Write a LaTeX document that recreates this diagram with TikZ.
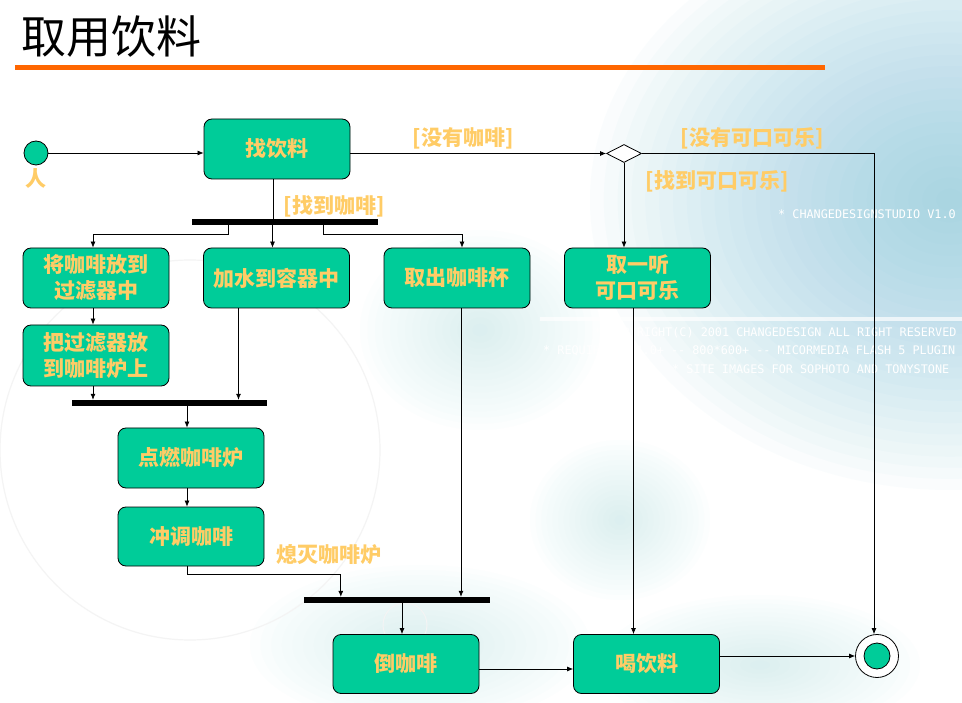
\documentclass[tikz,border=0pt]{standalone}
\usepackage{fontspec}
\newfontfamily\cjk{Noto Sans CJK SC}
\newfontfamily\wmfont{DejaVu Sans Mono}
\usetikzlibrary{shapes.geometric,arrows.meta,calc}
\definecolor{boxgreen}{HTML}{00CC99}
\definecolor{lbl}{HTML}{FFCC66}
\definecolor{orangeline}{HTML}{FF6600}
\definecolor{bgblue}{HTML}{7FC4DC}
\definecolor{bglight}{HTML}{BFE4F0}
\tikzset{
  act/.style={draw=black, line width=0.8pt, fill=boxgreen, rounded corners=8pt,
    minimum width=146pt, minimum height=60pt, inner sep=0pt, align=center,
    text=lbl, font=\cjk\bfseries\fontsize{21}{26}\selectfont},
  syncbar/.style={fill=black, minimum height=6pt, inner sep=0pt},
  arr/.style={-{Latex[length=6pt,width=5pt]}, line width=0.7pt},
  guard/.style={text=lbl, inner sep=0pt, font=\cjk\bfseries\fontsize{21}{24}\selectfont},
  wm/.style={text=white, anchor=west, inner sep=0pt, font=\wmfont\fontsize{11.8}{12}\selectfont},
  glow/.style={fill=#1, opacity=0.035, draw=none}
}
\begin{document}
\begin{tikzpicture}[x=1pt,y=-1pt]
\useasboundingbox (0,0) rectangle (962,703);
\fill[white] (0,0) rectangle (962,703);
% background decoration
\begin{scope}
  \clip (0,0) rectangle (962,703);
  \foreach \k in {1,...,26} {
    \fill[glow=bgblue] (950,200) ellipse ({360*\k/26} and {290*\k/26});
  }
  \foreach \k in {1,...,16} {
    \fill[glow=bglight] (480,330) ellipse ({120*\k/16} and {100*\k/16});
    \fill[glow=bglight] (420,645) ellipse ({170*\k/16} and {80*\k/16});
    \fill[glow=bglight] (760,665) ellipse ({160*\k/16} and {70*\k/16});
    \fill[glow=bglight] (620,520) ellipse ({90*\k/16} and {80*\k/16});
  }
\end{scope}
\draw[gray!9, line width=1.2pt] (190,450) circle (190);
\draw[gray!9, line width=1pt] (405,625) circle (22);
\fill[white, opacity=0.7] (540,317) rectangle (962,321);
\node[wm] (wm1) at (778,214) {* CHANGEDESIGNSTUDIO V1.0};
\node[wm] (wm2) at (594,333) {* COPYRIGHT(C) 2001 CHANGEDESIGN ALL RIGHT RESERVED};
\node[wm] (wm3) at (543,351) {* REQUIRES IE4.0+ -- 800*600+ -- MICORMEDIA FLASH 5 PLUGIN};
\node[wm] (wm4) at (672,369) {* SITE IMAGES FOR SOPHOTO AND TONYSTONE};
% title
\node[anchor=west, inner sep=0pt, font=\cjk\fontsize{45}{48}\selectfont] (title) at (21,37) {取用饮料};
\fill[orangeline] (15,65) rectangle (825,70);
% start and end
\node[circle, draw=black, line width=0.8pt, fill=boxgreen, minimum size=24pt, inner sep=0pt] (start) at (36,153) {};
\node[guard] (person) at (36,179) {人};
\node[circle, draw=black, line width=0.8pt, fill=white, minimum size=43pt, inner sep=0pt] (final) at (877,656) {};
\node[circle, draw=black, line width=0.8pt, fill=boxgreen, minimum size=26pt, inner sep=0pt] (finalin) at (final.center) {};
% activities
\node[act] (find) at (277,149) {找饮料};
\node[act] (filt) at (96,278) {将咖啡放到\\过滤器中};
\node[act] (water) at (276.5,278) {加水到容器中};
\node[act] (cup) at (457,278) {取出咖啡杯};
\node[act] (cola) at (637.5,278) {取一听\\可口可乐};
\node[act, minimum height=61pt] (put) at (96,355.5) {把过滤器放\\到咖啡炉上};
\node[act] (light) at (191,458) {点燃咖啡炉};
\node[act, minimum height=59pt] (brew) at (191,536.5) {冲调咖啡};
\node[act, minimum height=59pt] (pour) at (406,664) {倒咖啡};
\node[act, minimum height=59pt] (drink) at (646.5,664) {喝饮料};
% decision and bars
\node[diamond, draw=black, line width=0.8pt, fill=white, minimum width=35pt, minimum height=18pt, inner sep=0pt] (dia) at (624,153.5) {};
\node[syncbar, minimum width=186pt] (bar1) at (285,222) {};
\node[syncbar, minimum width=195pt] (bar2) at (169.5,403) {};
\node[syncbar, minimum width=186pt] (bar3) at (397,600) {};
% guards
\node[guard] (g1) at (463,138) {[没有咖啡]};
\node[guard] (g2) at (334,206) {[找到咖啡]};
\node[guard] (g3) at (752,138) {[没有可口可乐]};
\node[guard] (g4) at (717,181) {[找到可口可乐]};
\node[guard] (g5) at (329,555) {熄灭咖啡炉};
% helper coordinates
\coordinate (fs) at ($(find.south)+(-4,0)$);
\coordinate (b1a) at ($(bar1.south west)+(37,0)$);
\coordinate (b1c) at ($(bar1.south west)+(132,0)$);
\coordinate (fn) at ($(filt.north)+(-3,0)$);
\coordinate (wn) at ($(water.north)+(-4,0)$);
\coordinate (cn) at ($(cup.north)+(5,0)$);
\coordinate (fls) at ($(filt.south)+(-3,0)$);
\coordinate (pn) at ($(put.north)+(-3,0)$);
\coordinate (ps) at ($(put.south)+(-3,0)$);
\coordinate (ws) at ($(water.south)+(-38,0)$);
\coordinate (ln) at ($(light.north)+(-4,0)$);
\coordinate (ls) at ($(light.south)+(-4,0)$);
\coordinate (bn) at ($(brew.north)+(-4,0)$);
\coordinate (bs) at ($(brew.south)+(-4,0)$);
\coordinate (b3a) at ($(bar3.north west)+(37,0)$);
\coordinate (cs) at ($(cup.south)+(4,0)$);
\coordinate (pon) at ($(pour.north)+(-4,0)$);
\coordinate (cos) at ($(cola.south)+(-4,0)$);
\coordinate (poe) at ($(pour.east)+(0,5)$);
\coordinate (fin) at ($(final.north)+(-3,0)$);
% connectors
\draw[arr] (start.east) -- (start.east -| find.west);
\draw[arr] (dia.west -| find.east) -- (dia.west);
\draw[arr] (dia.east) -| (fin);
\draw[line width=0.7pt] (fs) -- (fs |- bar1.north);
\draw[arr] (b1a) -- ++(0,9) -| (fn);
\draw[arr] (wn |- bar1.south) -- (wn);
\draw[arr] (b1c) -- ++(0,9) -| (cn);
\draw[arr] (dia.south) -- (dia.south |- cola.north);
\draw[arr] (fls) -- (pn);
\draw[arr] (ps) -- (ps |- bar2.north);
\draw[arr] (ws) -- (ws |- bar2.north);
\draw[arr] (ln |- bar2.south) -- (ln);
\draw[arr] (ls) -- (bn);
\draw[arr] (bs) -- ++(0,8) -| (b3a);
\draw[arr] (cs) -- (cs |- bar3.north);
\draw[arr] (pon |- bar3.south) -- (pon);
\draw[arr] (cos) -- (cos |- drink.north);
\draw[arr] (poe) -- (poe -| drink.west);
\draw[arr] (final.west -| drink.east) -- (final.west);
\end{tikzpicture}
\end{document}
